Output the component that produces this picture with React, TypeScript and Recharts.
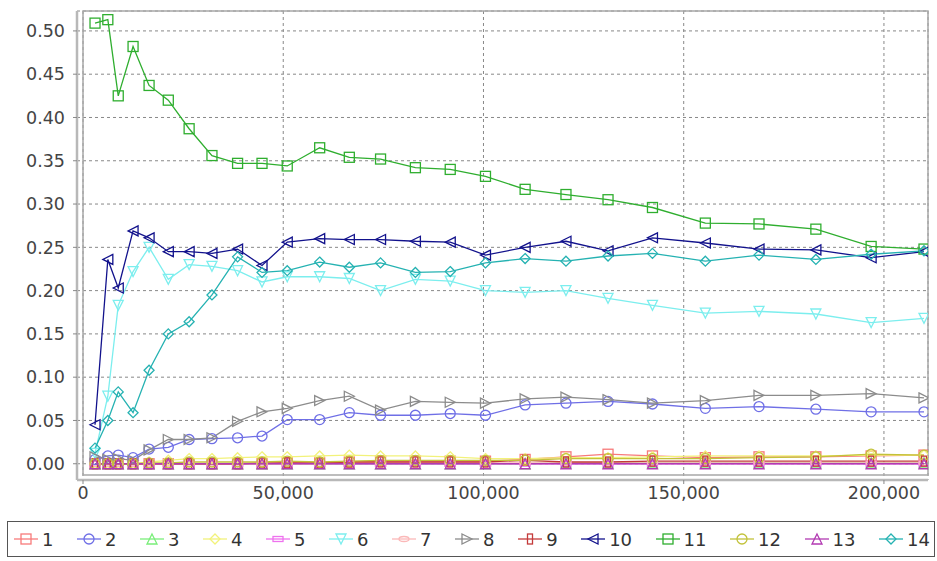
import React from "react";
import {
  LineChart,
  Line,
  XAxis,
  YAxis,
  CartesianGrid,
  Legend,
  ReferenceArea,
} from "recharts";

const xValues = [
  3000, 6200, 8800, 12500, 16500, 21300, 26500, 32200, 38600, 44700, 51000,
  59100, 66500, 74300, 83000, 91700, 100500, 110400, 120600, 131100, 142200,
  155400, 168800, 183000, 196800, 210000,
];

const s1 = [0, 0, 0, 0, 0, 0, 0, 0, 0, 0, 0.001, 0.001, 0.002, 0.003, 0.003, 0.003, 0.003, 0.005, 0.008, 0.011, 0.009, 0.007, 0.008, 0.008, 0.009, 0.01];
const s2 = [0.005, 0.009, 0.01, 0.007, 0.017, 0.019, 0.028, 0.029, 0.03, 0.032, 0.051, 0.051, 0.059, 0.056, 0.056, 0.058, 0.056, 0.068, 0.07, 0.072, 0.069, 0.064, 0.066, 0.063, 0.06, 0.06];
const s3 = [0, 0, 0, 0, 0, 0, 0, 0, 0, 0, 0, 0, 0, 0, 0, 0, 0, 0, 0.001, 0.001, 0.001, 0.001, 0.001, 0.001, 0.001, 0.001];
const s4 = [0, 0, 0, 0, 0.002, 0.004, 0.006, 0.006, 0.007, 0.008, 0.008, 0.009, 0.01, 0.009, 0.009, 0.008, 0.006, 0.006, 0.007, 0.007, 0.008, 0.009, 0.009, 0.009, 0.01, 0.01];
const s5 = [0, 0, 0, 0, 0, 0, 0, 0, 0, 0, 0, 0, 0, 0, 0, 0, 0, 0, 0, 0, 0, 0, 0, 0, 0, 0];
const s6 = [0.012, 0.078, 0.183, 0.222, 0.25, 0.213, 0.23, 0.228, 0.223, 0.21, 0.216, 0.216, 0.214, 0.2, 0.213, 0.211, 0.2, 0.198, 0.2, 0.191, 0.183, 0.174, 0.176, 0.173, 0.163, 0.168];
const s7 = [0, 0, 0, 0, 0, 0, 0, 0, 0, 0, 0, 0, 0.001, 0.001, 0.001, 0.001, 0.001, 0.001, 0.001, 0.001, 0.001, 0.001, 0.001, 0.001, 0.001, 0.001];
const s8 = [0.008, 0.005, 0.006, 0.004, 0.016, 0.028, 0.028, 0.03, 0.049, 0.06, 0.064, 0.073, 0.078, 0.062, 0.072, 0.071, 0.07, 0.075, 0.077, 0.074, 0.07, 0.073, 0.079, 0.079, 0.081, 0.076];
const s9 = [0, 0, 0, 0, 0, 0, 0, 0, 0, 0.001, 0.001, 0.001, 0.002, 0.002, 0.002, 0.002, 0.002, 0.004, 0.002, 0.002, 0.003, 0.003, 0.003, 0.003, 0.003, 0.003];
const s10 = [0.045, 0.236, 0.203, 0.269, 0.261, 0.245, 0.245, 0.243, 0.248, 0.229, 0.256, 0.26, 0.259, 0.259, 0.257, 0.256, 0.241, 0.25, 0.257, 0.246, 0.261, 0.255, 0.248, 0.247, 0.238, 0.245];
const s11 = [0.509, 0.513, 0.425, 0.482, 0.437, 0.42, 0.387, 0.356, 0.347, 0.347, 0.344, 0.365, 0.354, 0.352, 0.342, 0.34, 0.332, 0.317, 0.311, 0.305, 0.296, 0.278, 0.277, 0.271, 0.251, 0.248];
const s12 = [0, 0, 0, 0, 0.001, 0.001, 0.002, 0.002, 0.002, 0.002, 0.003, 0.002, 0.003, 0.004, 0.004, 0.004, 0.004, 0.004, 0.006, 0.006, 0.006, 0.006, 0.007, 0.008, 0.011, 0.01];
const s13 = [0, 0, 0, 0, 0, 0, 0, 0, 0, 0, 0, 0, 0, 0, 0, 0, 0, 0, 0, 0, 0, 0, 0, 0, 0, 0];
const s14 = [0.018, 0.05, 0.083, 0.059, 0.108, 0.15, 0.164, 0.195, 0.239, 0.221, 0.223, 0.233, 0.227, 0.232, 0.221, 0.222, 0.232, 0.237, 0.234, 0.24, 0.243, 0.234, 0.241, 0.236, 0.242, 0.246];

const seriesNames = ["1", "2", "3", "4", "5", "6", "7", "8", "9", "10", "11", "12", "13", "14"];
const seriesValues = [s1, s2, s3, s4, s5, s6, s7, s8, s9, s10, s11, s12, s13, s14];
const seriesColors = [
  "#f77a7a", "#6f6fe6", "#7aee7a", "#f2f27a", "#ee72ee", "#7ceeee", "#fbb8b8",
  "#8c8c8c", "#c43a3a", "#12128c", "#2fae2f", "#c2c23a", "#b23ab2", "#25b2b2",
];
const seriesShapes = [
  "square", "circle", "up", "diamond", "hrect", "down", "ellipse",
  "right", "vrect", "left", "square", "circle", "up", "diamond",
];

const xTicks = [0, 50000, 100000, 150000, 200000];
const yTicks = [0, 0.05, 0.1, 0.15, 0.2, 0.25, 0.3, 0.35, 0.4, 0.45, 0.5];
const xDomain = [0, 211000];
const yDomain = [-0.013, 0.523];

const data = xValues.map((x, i) => {
  const row: Record<string, number> = { x };
  seriesValues.forEach((vals, k) => {
    row["s" + (k + 1)] = vals[i];
  });
  return row;
});

function Marker({ shape, cx, cy, color, h = 5 }: any) {
  const common = { fill: "none", stroke: color, strokeWidth: 1.3 };
  switch (shape) {
    case "square":
      return <rect x={cx - h} y={cy - h} width={2 * h} height={2 * h} {...common} />;
    case "circle":
      return <circle cx={cx} cy={cy} r={h} {...common} />;
    case "up":
      return <polygon points={`${cx},${cy - h} ${cx + h},${cy + h} ${cx - h},${cy + h}`} {...common} />;
    case "diamond":
      return <polygon points={`${cx},${cy - h} ${cx + h},${cy} ${cx},${cy + h} ${cx - h},${cy}`} {...common} />;
    case "hrect":
      return <rect x={cx - h} y={cy - h / 2} width={2 * h} height={h} {...common} />;
    case "down":
      return <polygon points={`${cx - h},${cy - h} ${cx + h},${cy - h} ${cx},${cy + h}`} {...common} />;
    case "ellipse":
      return <ellipse cx={cx} cy={cy} rx={h} ry={h / 2} {...common} />;
    case "right":
      return <polygon points={`${cx - h},${cy - h} ${cx + h},${cy} ${cx - h},${cy + h}`} {...common} />;
    case "vrect":
      return <rect x={cx - h / 2} y={cy - h} width={h} height={2 * h} {...common} />;
    case "left":
      return <polygon points={`${cx + h},${cy - h} ${cx - h},${cy} ${cx + h},${cy + h}`} {...common} />;
    default:
      return null;
  }
}

const makeDot = (shape: string, color: string) => (props: any) => {
  const { cx, cy, index } = props;
  if (cx == null || cy == null) return <g key={index} />;
  return (
    <g key={`${shape}-${index}`}>
      <Marker shape={shape} cx={cx} cy={cy} color={color} />
    </g>
  );
};

const fontFamily = "'DejaVu Sans', sans-serif";

function LegendContent() {
  return (
    <div
      style={{
        boxSizing: "border-box",
        width: 928,
        height: 36,
        border: "1.5px solid #555",
        background: "#fff",
        display: "flex",
        alignItems: "center",
        justifyContent: "space-between",
        paddingLeft: 6,
        paddingRight: 4,
        fontFamily,
        fontSize: 18,
        color: "#333",
      }}
    >
      {seriesNames.map((name, i) => (
        <div key={name} style={{ display: "flex", alignItems: "center" }}>
          <svg width={24} height={16} style={{ display: "block" }}>
            <line x1={0} y1={8} x2={24} y2={8} stroke={seriesColors[i]} strokeWidth={1.3} />
            <Marker shape={seriesShapes[i]} cx={12} cy={8} color={seriesColors[i]} />
          </svg>
          <span style={{ marginLeft: 4 }}>{name}</span>
        </div>
      ))}
    </div>
  );
}

export default function App() {
  return (
    <div style={{ position: "absolute", left: 0, top: 0, width: 937, height: 561, background: "#fff" }}>
      <LineChart
        width={937}
        height={561}
        data={data}
        margin={{ top: 11, right: 9, left: 7, bottom: 4 }}
      >
        <CartesianGrid stroke="#888" strokeDasharray="3 3" />
        <ReferenceArea
          x1={xDomain[0]}
          x2={xDomain[1]}
          y1={yDomain[0]}
          y2={yDomain[1]}
          fill="none"
          stroke="#a8a8a8"
          strokeWidth={1.5}
          ifOverflow="visible"
        />
        <XAxis
          dataKey="x"
          type="number"
          domain={xDomain}
          ticks={xTicks}
          allowDataOverflow
          padding={{ left: 6, right: 0 }}
          height={41}
          axisLine={{ stroke: "#b8b8b8", strokeWidth: 2.5 }}
          tickLine={{ stroke: "#888" }}
          tickSize={4}
          tickMargin={3}
          tick={{ fill: "#444", fontSize: 17.5, fontFamily }}
          tickFormatter={(v: number) => v.toLocaleString("en-US")}
        />
        <YAxis
          type="number"
          domain={yDomain}
          ticks={yTicks}
          allowDataOverflow
          padding={{ top: 0, bottom: 5 }}
          width={70}
          axisLine={{ stroke: "#b8b8b8", strokeWidth: 2.5 }}
          tickLine={{ stroke: "#888" }}
          tickSize={4}
          tickMargin={8}
          tick={{ fill: "#444", fontSize: 17.5, fontFamily }}
          tickFormatter={(v: number) => v.toFixed(2)}
        />
        {seriesNames.map((name, i) => (
          <Line
            key={name}
            type="linear"
            dataKey={"s" + (i + 1)}
            name={name}
            stroke={seriesColors[i]}
            strokeWidth={1.3}
            dot={makeDot(seriesShapes[i], seriesColors[i])}
            activeDot={false}
            isAnimationActive={false}
          />
        ))}
        <Legend verticalAlign="bottom" align="left" content={<LegendContent />} wrapperStyle={{ left: 7 }} />
      </LineChart>
    </div>
  );
}
